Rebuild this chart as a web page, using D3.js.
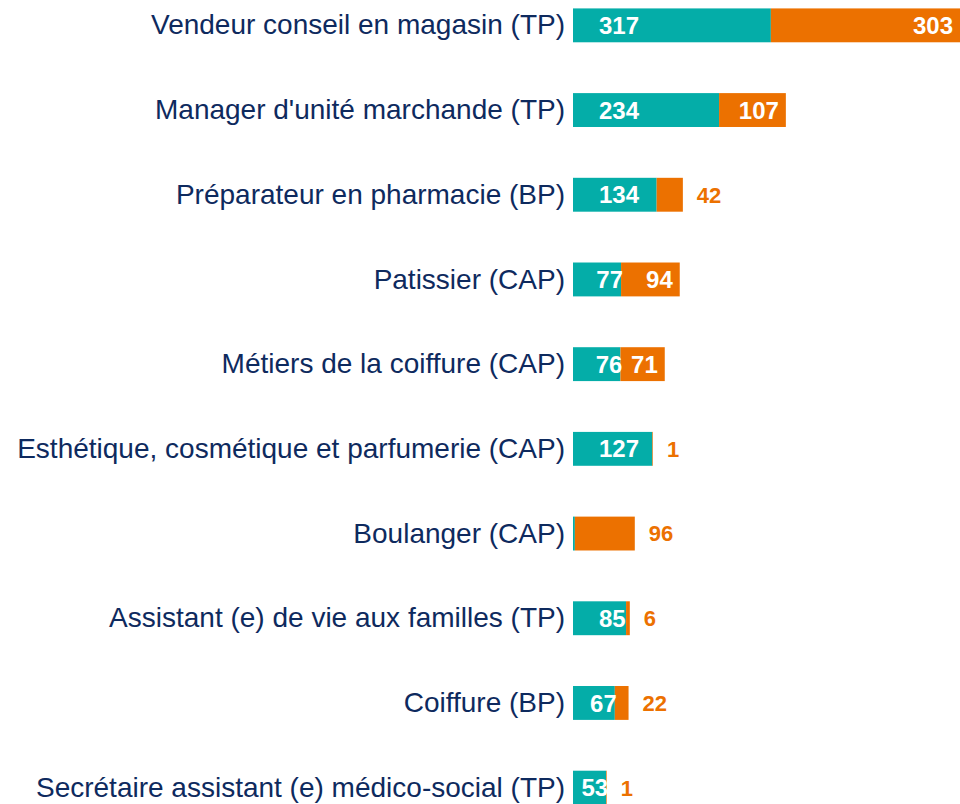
<!DOCTYPE html>
<html>
<head>
<meta charset="utf-8">
<script src="https://cdn.jsdelivr.net/npm/d3@7"></script>
<style>
  body { margin: 0; background: #fff; }
  svg { display: block; }
</style>
</head>
<body>
<div id="chart"></div>
<script>
var categories = [
    'Vendeur conseil en magasin (TP)',
    "Manager d'unité marchande (TP)",
    'Préparateur en pharmacie (BP)',
    'Patissier (CAP)',
    'Métiers de la coiffure (CAP)',
    'Esthétique, cosmétique et parfumerie (CAP)',
    'Boulanger (CAP)',
    'Assistant (e) de vie aux familles (TP)',
    'Coiffure (BP)',
    'Secrétaire assistant (e) médico-social (TP)'
];
var teal_values = [317, 234, 134, 77, 76, 127, 3, 85, 67, 53];
var orange_values = [303, 107, 42, 94, 71, 1, 96, 6, 22, 1];
// which labels are drawn (Boulanger teal has none)
var teal_labels = ['317', '234', '134', '77', '76', '127', '', '85', '67', '53'];

var chart_width = 960;
var chart_height = 804;
var teal = '#04ADA8';
var orange = '#EC7100';
var navy = '#0E2A5E';
var font = 'Liberation Sans, Arial, sans-serif';

var svg = d3.select('#chart')
    .append('svg')
    .attr('width', chart_width)
    .attr('height', chart_height)

var rows = categories.map(function (c, i) {
    return { name: c, a: teal_values[i], b: orange_values[i], la: teal_labels[i] };
});

var y_scale = d3.scaleBand()
    .domain(categories)
    .range([-17, 830])
    .paddingInner(0.6)
    .paddingOuter(0.3)

var x_scale = d3.scaleLinear()
    .domain([0, d3.max(rows, function (d) { return d.a + d.b; })])
    .range([573, 960])

function mid(d) {
    return y_scale(d.name) + y_scale.bandwidth() / 2;
}

var g = svg.selectAll('g.row')
    .data(rows)
    .enter()
    .append('g')
    .attr('class', 'row')

// category labels
g.append('text')
    .text(function (d) { return d.name; })
    .attr('x', 565)
    .attr('y', function (d) { return mid(d) - 1; })
    .attr('dy', '0.36em')
    .attr('text-anchor', 'end')
    .attr('font-family', font)
    .attr('font-size', 28)
    .attr('fill', navy)

// teal bars
g.append('rect')
    .attr('x', x_scale(0))
    .attr('y', function (d) { return y_scale(d.name); })
    .attr('width', function (d) { return x_scale(d.a) - x_scale(0); })
    .attr('height', y_scale.bandwidth())
    .attr('fill', teal)

// orange bars
g.append('rect')
    .attr('x', function (d) { return x_scale(d.a); })
    .attr('y', function (d) { return y_scale(d.name); })
    .attr('width', function (d) { return x_scale(d.a + d.b) - x_scale(d.a); })
    .attr('height', y_scale.bandwidth())
    .attr('fill', orange)

// teal value labels
g.append('text')
    .text(function (d) { return d.la; })
    .attr('font-family', font)
    .attr('font-weight', 'bold')
    .attr('font-size', 24)
    .attr('fill', '#fff')
    .attr('y', mid)
    .attr('dy', '0.36em')
    .each(function (d) {
        var t = d3.select(this);
        var w = this.getComputedTextLength();
        var bw = x_scale(d.a) - x_scale(0);
        if (bw >= w + 26) {
            t.attr('x', x_scale(0) + 26).attr('text-anchor', 'start');
        } else {
            t.attr('x', x_scale(d.a) + 2).attr('text-anchor', 'end');
        }
    })

// orange value labels: inside when they fit, outside otherwise
g.append('text')
    .text(function (d) { return d.b; })
    .attr('font-family', font)
    .attr('font-weight', 'bold')
    .attr('y', mid)
    .attr('dy', '0.36em')
    .each(function (d) {
        var t = d3.select(this);
        if (d.b > 60 && d.a > 10) {
            t.attr('font-size', 24).attr('fill', '#fff')
                .attr('x', x_scale(d.a + d.b) - 7).attr('text-anchor', 'end');
        } else {
            t.attr('font-size', 22).attr('fill', orange)
                .attr('x', x_scale(d.a + d.b) + 14).attr('text-anchor', 'start');
        }
    })
</script>
</body>
</html>
